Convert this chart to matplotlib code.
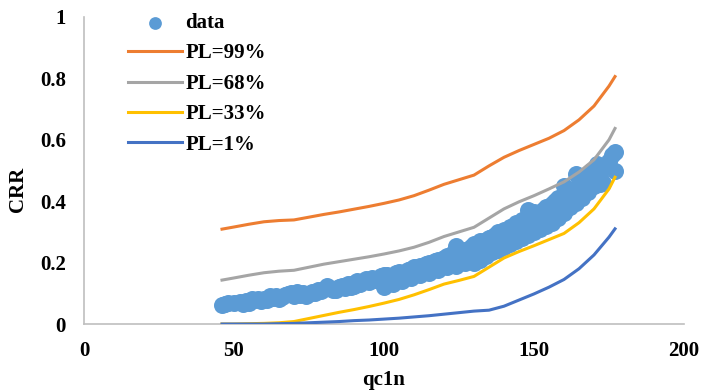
import matplotlib
matplotlib.use('Agg')
import matplotlib.pyplot as plt

# scatter data (qc1n, CRR)
data_x = [46, 47, 50, 52, 54, 55, 57, 58, 60, 61, 63, 64, 66, 67, 69, 70, 72, 73, 75, 76,
          78, 79, 80, 82, 83, 85, 86, 88, 89, 90, 91, 92, 94, 95, 96, 98, 99, 100, 101, 103,
          104, 105, 106, 108, 109, 110, 111, 112, 113, 114, 115, 116, 117, 118, 119, 120, 121, 122, 123, 124,
          125, 126, 127, 128, 129, 130, 131, 132, 133, 134, 135, 136, 137, 138, 139, 140, 141, 142, 143, 144,
          145, 146, 147, 148, 149, 150, 151, 152, 153, 154, 155, 156, 157, 158, 159, 160, 160, 161, 162, 163,
          164, 164, 165, 166, 167, 168, 169, 170, 171, 172, 173, 175, 176, 177, 177,
          48, 53, 56, 59, 62, 65, 68, 71, 74, 77, 81, 84, 87, 90, 93, 97, 100, 102, 107, 110,
          112, 115, 118, 121, 124, 127, 130, 133, 136, 138, 140, 142, 144, 146, 148, 150, 152, 154, 156, 158,
          160, 162, 163, 165, 167, 169, 170, 172,
          100, 103, 106, 109, 112, 115, 118, 121, 124, 127, 130, 132, 134, 136, 138, 140, 142, 144, 146, 148,
          150, 152, 154, 156, 158, 160, 162, 164, 166, 168, 170, 172]
data_y = [0.062, 0.065, 0.068, 0.072, 0.075, 0.070, 0.078, 0.080, 0.082, 0.078, 0.085, 0.090, 0.088, 0.095, 0.100, 0.092, 0.095, 0.100, 0.098, 0.105,
          0.110, 0.108, 0.115, 0.118, 0.112, 0.120, 0.125, 0.130, 0.122, 0.135, 0.140, 0.130, 0.145, 0.138, 0.150, 0.148, 0.155, 0.145, 0.160, 0.155,
          0.165, 0.170, 0.160, 0.175, 0.180, 0.170, 0.185, 0.190, 0.178, 0.195, 0.200, 0.188, 0.205, 0.210, 0.198, 0.215, 0.220, 0.205, 0.230, 0.255,
          0.225, 0.235, 0.240, 0.230, 0.250, 0.245, 0.260, 0.270, 0.255, 0.275, 0.280, 0.265, 0.290, 0.300, 0.280, 0.305, 0.295, 0.315, 0.320, 0.300,
          0.330, 0.340, 0.325, 0.370, 0.345, 0.350, 0.360, 0.340, 0.370, 0.380, 0.365, 0.390, 0.400, 0.380, 0.410, 0.450, 0.420, 0.400, 0.430, 0.440,
          0.420, 0.490, 0.450, 0.430, 0.460, 0.470, 0.500, 0.480, 0.520, 0.500, 0.460, 0.530, 0.550, 0.560, 0.500,
          0.070, 0.065, 0.080, 0.075, 0.090, 0.082, 0.098, 0.105, 0.092, 0.100, 0.125, 0.110, 0.118, 0.125, 0.140, 0.142, 0.160, 0.150, 0.170, 0.185,
          0.172, 0.190, 0.200, 0.210, 0.215, 0.228, 0.260, 0.265, 0.285, 0.275, 0.290, 0.305, 0.330, 0.320, 0.335, 0.365, 0.355, 0.365, 0.375, 0.410,
          0.390, 0.415, 0.400, 0.420, 0.440, 0.455, 0.500, 0.480,
          0.120, 0.130, 0.140, 0.150, 0.160, 0.165, 0.175, 0.185, 0.190, 0.200, 0.200, 0.210, 0.220, 0.235, 0.240, 0.250, 0.260, 0.270, 0.280, 0.290,
          0.300, 0.310, 0.320, 0.330, 0.345, 0.360, 0.380, 0.395, 0.410, 0.430, 0.450, 0.455]

# probability-of-liquefaction curves
curve_x = [46, 50, 55, 60, 65, 70, 75, 80, 85, 90, 95, 100, 105, 110, 115, 120, 125, 130,
           135, 140, 145, 150, 155, 160, 165, 170, 175, 177]
pl99 = [0.309, 0.316, 0.325, 0.333, 0.337, 0.339, 0.348, 0.357, 0.365, 0.374, 0.383, 0.393, 0.404, 0.418,
        0.436, 0.455, 0.470, 0.485, 0.515, 0.543, 0.565, 0.585, 0.605, 0.630, 0.665, 0.710, 0.775, 0.806]
pl68 = [0.143, 0.150, 0.159, 0.167, 0.172, 0.175, 0.185, 0.195, 0.203, 0.211, 0.219, 0.228, 0.238, 0.250,
        0.266, 0.285, 0.300, 0.315, 0.345, 0.375, 0.398, 0.418, 0.440, 0.463, 0.495, 0.535, 0.600, 0.637]
pl33 = [0.000, 0.000, 0.001, 0.002, 0.004, 0.008, 0.018, 0.028, 0.038, 0.047, 0.057, 0.068, 0.080, 0.095,
        0.112, 0.130, 0.142, 0.155, 0.185, 0.215, 0.236, 0.255, 0.275, 0.295, 0.330, 0.375, 0.440, 0.478]
pl01 = [0.000, 0.000, 0.000, 0.000, 0.001, 0.002, 0.004, 0.006, 0.008, 0.011, 0.013, 0.016, 0.019, 0.023,
        0.027, 0.032, 0.037, 0.042, 0.045, 0.058, 0.078, 0.098, 0.120, 0.145, 0.180, 0.225, 0.283, 0.310]

x_ticks = [0, 50, 100, 150, 200]
y_ticks = [0, 0.2, 0.4, 0.6, 0.8, 1]
y_tick_labels = ['0', '0.2', '0.4', '0.6', '0.8', '1']

plt.rcParams['font.family'] = ['Liberation Serif', 'DejaVu Serif']
plt.rcParams['font.weight'] = 'bold'

W, H = 706, 392
fig = plt.figure(figsize=(W / 100, H / 100), dpi=100)
ax = fig.add_axes([84 / W, 1 - 324 / H, 600 / W, 307 / H])

ax.scatter(data_x, data_y, s=150, color='#5B9BD5', label='data', zorder=2, linewidths=0)
ax.plot(curve_x, pl99, color='#ED7D31', lw=2.2, label='PL=99%', zorder=3)
ax.plot(curve_x, pl68, color='#A5A5A5', lw=2.2, label='PL=68%', zorder=3)
ax.plot(curve_x, pl33, color='#FFC000', lw=2.2, label='PL=33%', zorder=3)
ax.plot(curve_x, pl01, color='#4472C4', lw=2.2, label='PL=1%', zorder=3)

ax.set_xlim(0, 200)
ax.set_ylim(0, 1)
ax.set_xticks(x_ticks)
ax.set_yticks(y_ticks)
ax.set_yticklabels(y_tick_labels)
ax.tick_params(length=0, labelsize=15)
ax.tick_params(axis='x', pad=12)
ax.tick_params(axis='y', pad=13)

for side in ['top', 'right']:
    ax.spines[side].set_visible(False)
for side in ['left', 'bottom']:
    ax.spines[side].set_color('#BFBFBF')
    ax.spines[side].set_linewidth(1.2)

ax.set_xlabel('qc1n', fontsize=15, fontweight='bold')
ax.xaxis.set_label_coords(0.5, -0.15)
ax.set_ylabel('CRR', fontsize=15, fontweight='bold')
ax.yaxis.set_label_coords(-0.093, 0.44)

leg = ax.legend(loc='upper left', bbox_to_anchor=(128 / W, 1 - 13 / H),
                bbox_transform=fig.transFigure, frameon=False, borderpad=0, borderaxespad=0,
                fontsize=15, handlelength=2.6, handletextpad=0.15, labelspacing=0.5,
                scatterpoints=1, markerscale=0.75)

fig.savefig('out.png', dpi=100)
